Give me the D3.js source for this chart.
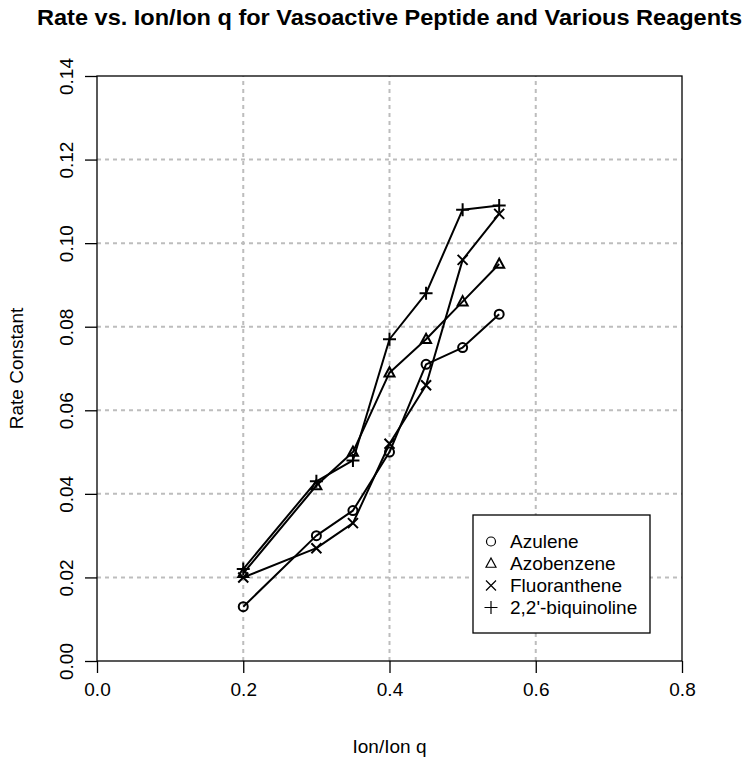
<!DOCTYPE html>
<html><head><meta charset="utf-8">
<script src="https://cdn.jsdelivr.net/npm/d3@7"></script>
<style>body{margin:0;background:#fff}svg{display:block}text{font-family:"Liberation Sans",Arial,sans-serif;fill:#000}</style>
</head><body>
<script>
const xValues = [0.2, 0.3, 0.35, 0.4, 0.45, 0.5, 0.55];
const azulene = [0.013, 0.030, 0.036, 0.050, 0.071, 0.075, 0.083];
const azobenzene = [0.021, 0.042, 0.050, 0.069, 0.077, 0.086, 0.095];
const fluoranthene = [0.020, 0.027, 0.033, 0.052, 0.066, 0.096, 0.107];
const biquinoline = [0.022, 0.043, 0.048, 0.077, 0.088, 0.108, 0.109];
const seriesNames = ["Azulene", "Azobenzene", "Fluoranthene", "2,2'-biquinoline"];
const seriesSymbols = ["circle", "triangle", "cross", "plus"];
const xTicks = [0.0, 0.2, 0.4, 0.6, 0.8];
const yTicks = [0.00, 0.02, 0.04, 0.06, 0.08, 0.10, 0.12, 0.14];
const gridX = [0.2, 0.4, 0.6];
const gridY = [0.02, 0.04, 0.06, 0.08, 0.10, 0.12];
const titleText = "Rate vs. Ion/Ion q for Vasoactive Peptide and Various Reagents";
const xLabel = "Ion/Ion q";
const yLabel = "Rate Constant";

const series = [azulene, azobenzene, fluoranthene, biquinoline];
const W = 751, H = 764;
const L = 97, R = 682, T = 76, B = 661;
const x = d3.scaleLinear().domain([0, 0.8]).range([L, R]);
const y = d3.scaleLinear().domain([0, 0.14]).range([B, T]);

const svg = d3.select("body").append("svg").attr("width", W).attr("height", H);

// grid
const g = svg.append("g").attr("stroke", "#bdbdbd").attr("stroke-width", 2).attr("stroke-dasharray", "4,4");
gridX.forEach(v => g.append("line").attr("x1", x(v)).attr("x2", x(v)).attr("y1", B).attr("y2", T));
gridY.forEach(v => g.append("line").attr("x1", L).attr("x2", R).attr("y1", y(v)).attr("y2", y(v)));

// box
svg.append("rect").attr("x", L).attr("y", T).attr("width", R - L).attr("height", B - T)
  .attr("fill", "none").attr("stroke", "#000").attr("stroke-width", 1.3);

// axes
const xAxis = svg.append("g").attr("transform", `translate(0,${B})`)
  .call(d3.axisBottom(x).tickValues(xTicks).tickFormat(d3.format(".1f")).tickSize(12).tickPadding(10));
const yAxis = svg.append("g").attr("transform", `translate(${L},0)`)
  .call(d3.axisLeft(y).tickValues(yTicks).tickFormat(d3.format(".2f")).tickSize(12));
[xAxis, yAxis].forEach(a => {
  a.select(".domain").remove();
  a.selectAll(".tick line").attr("stroke", "#000").attr("stroke-width", 1.3);
  a.selectAll("text").style("font-size", "19px").attr("fill", "#000");
});
xAxis.selectAll("text").attr("dy", "0.71em");
yAxis.selectAll(".tick text").attr("x", null).attr("dy", null)
  .attr("transform", "translate(-24,0) rotate(-90)").attr("text-anchor", "middle").attr("y", 0);

// lines
const line = d3.line().x((d, i) => x(xValues[i])).y(d => y(d));
series.forEach(s => {
  svg.append("path").datum(s).attr("d", line).attr("fill", "none")
    .attr("stroke", "#000").attr("stroke-width", 2).attr("stroke-linejoin", "round");
});

function drawSymbol(sel, type, cx, cy, s, sw) {
  const gg = sel.append("g").attr("transform", `translate(${cx},${cy})`)
    .attr("fill", "none").attr("stroke", "#000").attr("stroke-width", sw);
  if (type === "circle") gg.append("circle").attr("r", s * 0.9);
  else if (type === "triangle") {
    gg.append("path").attr("d", `M0,${-s * 1.1}L${s},${s * 0.75}L${-s},${s * 0.75}Z`);
  } else if (type === "cross") {
    gg.append("path").attr("d", `M${-s},${-s}L${s},${s}M${-s},${s}L${s},${-s}`);
  } else if (type === "plus") {
    const p = s * 1.3;
    gg.append("path").attr("d", `M${-p},0L${p},0M0,${-p}L0,${p}`);
  }
}
series.forEach((s, k) => {
  s.forEach((v, i) => drawSymbol(svg, seriesSymbols[k], x(xValues[i]), y(v), 5, 2));
});

// legend
const lg = svg.append("g");
lg.append("rect").attr("x", 473).attr("y", 515).attr("width", 177).attr("height", 118)
  .attr("fill", "#fff").attr("stroke", "#000").attr("stroke-width", 1.3);
seriesNames.forEach((n, i) => {
  const cy = 541.5 + i * 22;
  drawSymbol(lg, seriesSymbols[i], 491, cy, 5, 1.2);
  lg.append("text").attr("x", 510).attr("y", cy).attr("dy", "0.35em").style("font-size", "19px").text(n);
});

// titles
svg.append("text").attr("x", (L + R) / 2).attr("y", 25).attr("text-anchor", "middle")
  .attr("textLength", 705).attr("lengthAdjust", "spacingAndGlyphs")
  .style("font-size", "22px").style("font-weight", "bold").text(titleText);
svg.append("text").attr("x", (L + R) / 2).attr("y", 753).attr("text-anchor", "middle")
  .style("font-size", "19px").text(xLabel);
svg.append("text").attr("transform", `translate(23,${(T + B) / 2}) rotate(-90)`).attr("text-anchor", "middle")
  .style("font-size", "19px").text(yLabel);
</script>
</body></html>
